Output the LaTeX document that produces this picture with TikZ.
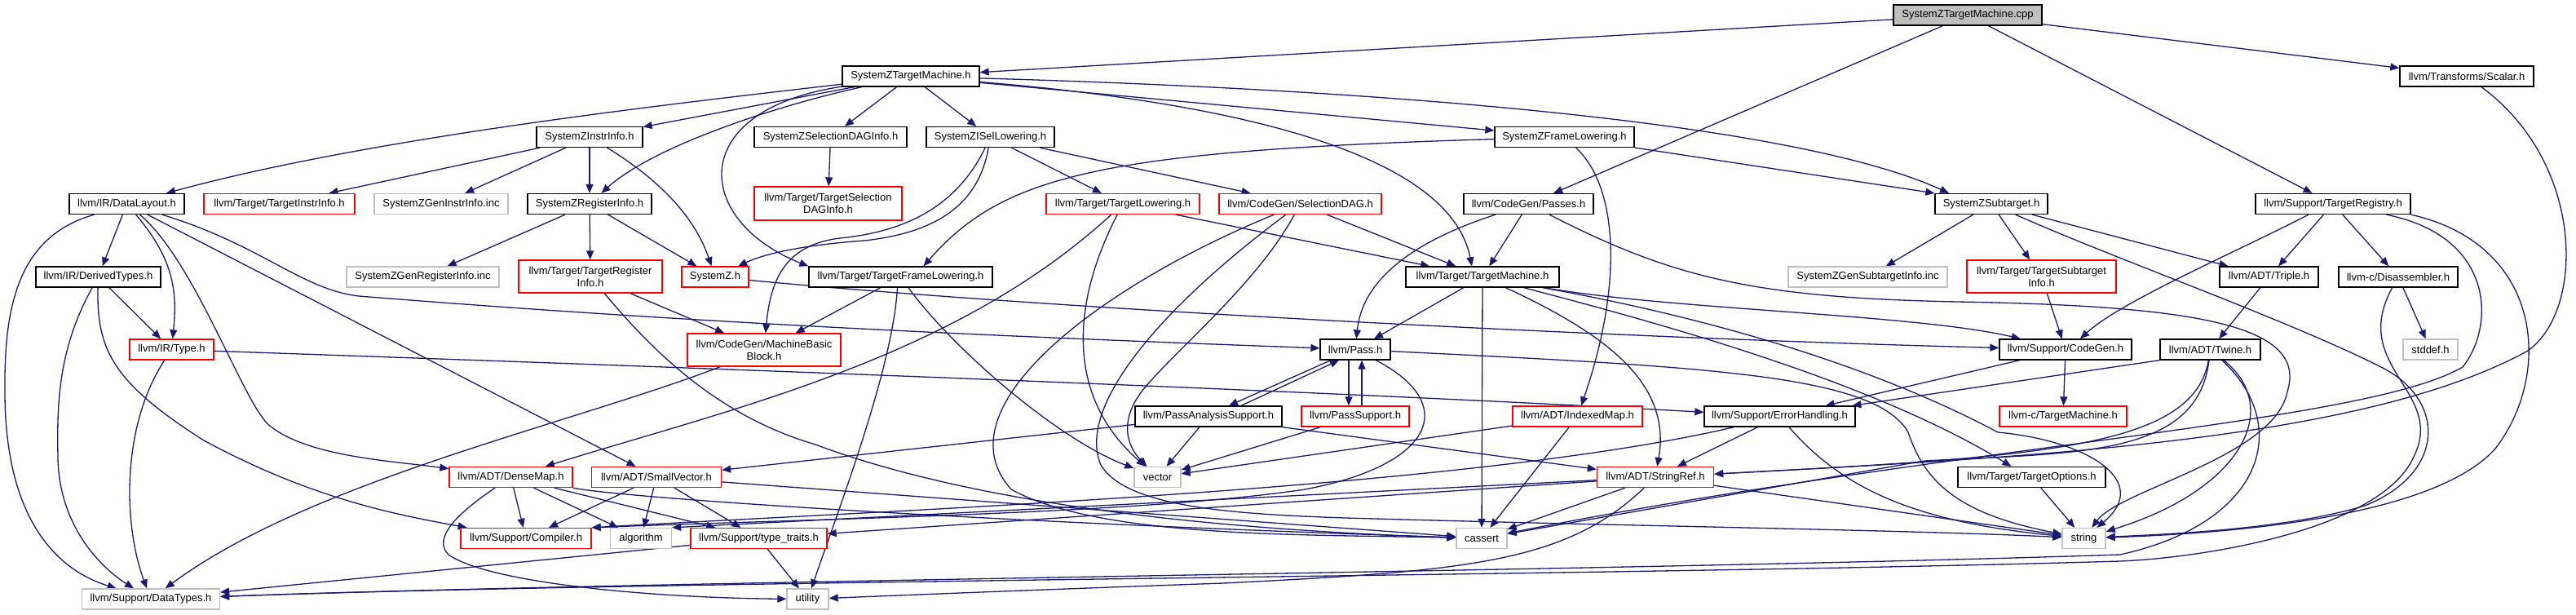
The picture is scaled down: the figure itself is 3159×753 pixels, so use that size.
\documentclass[tikz,border=0pt]{standalone}
\usepackage{fontspec}
\setmainfont{Liberation Sans}
\usetikzlibrary{arrows.meta,backgrounds}
\definecolor{edgec}{HTML}{191970}
\definecolor{grayb}{HTML}{BFBFBF}
\definecolor{redb}{HTML}{FF0000}
\newcommand\dfont{\fontsize{13}{15}\selectfont}
\begin{document}
\begin{tikzpicture}[x=1pt,y=-1pt,
  nd/.style={draw=black, line width=1.3pt, fill=white, inner sep=0pt, font=\dfont, align=center, text=black},
  rd/.style={nd, draw=redb},
  gd/.style={nd, draw=grayb},
  ed/.style={draw=edgec, line width=1.3pt, -{Triangle[length=11pt,width=9pt]}}]
\useasboundingbox (0,0) rectangle (3159,753);
% nodes
\node[nd, fill=grayb, minimum width=182pt, minimum height=25pt] (cpp) at (2413,18.5) {SystemZTargetMachine.cpp};
\node[nd, minimum width=168pt, minimum height=25pt] (tmh) at (1117,93.5) {SystemZTargetMachine.h};
\node[nd, minimum width=164pt, minimum height=25pt] (scalar) at (3025,93.5) {llvm/Transforms/Scalar.h};
\node[nd, minimum width=130pt, minimum height=25pt] (instr) at (723,168) {SystemZInstrInfo.h};
\node[nd, minimum width=187pt, minimum height=25pt] (seldag) at (1018.5,168) {SystemZSelectionDAGInfo.h};
\node[nd, minimum width=157pt, minimum height=25pt] (isel) at (1214.5,168) {SystemZISelLowering.h};
\node[nd, minimum width=171pt, minimum height=25pt] (frame) at (1918.5,168) {SystemZFrameLowering.h};
\node[nd, minimum width=141pt, minimum height=25pt] (dl) at (155.5,250) {llvm/IR/DataLayout.h};
\node[rd, minimum width=185pt, minimum height=25pt] (tii) at (342.5,250) {llvm/Target/TargetInstrInfo.h};
\node[gd, minimum width=164pt, minimum height=25pt] (geninstr) at (541,250) {SystemZGenInstrInfo.inc};
\node[nd, minimum width=152pt, minimum height=25pt] (reg) at (723,250) {SystemZRegisterInfo.h};
\node[rd, minimum width=181pt, minimum height=41pt] (tsdi) at (1015.5,249.5) {llvm/Target/TargetSelection\\DAGInfo.h};
\node[rd, minimum width=188pt, minimum height=25pt] (tl) at (1377,250) {llvm/Target/TargetLowering.h};
\node[rd, minimum width=199pt, minimum height=25pt] (sdag) at (1594.5,250) {llvm/CodeGen/SelectionDAG.h};
\node[nd, minimum width=159pt, minimum height=25pt] (passes) at (1874.5,250) {llvm/CodeGen/Passes.h};
\node[nd, minimum width=138pt, minimum height=25pt] (subt) at (2442,250) {SystemZSubtarget.h};
\node[nd, minimum width=190pt, minimum height=25pt] (treg) at (2861,250) {llvm/Support/TargetRegistry.h};
\node[nd, minimum width=153pt, minimum height=25pt] (dt) at (120.5,339.5) {llvm/IR/DerivedTypes.h};
\node[gd, minimum width=187pt, minimum height=25pt] (genreg) at (518.5,339.5) {SystemZGenRegisterInfo.inc};
\node[rd, minimum width=176pt, minimum height=40pt] (tri) at (724,339) {llvm/Target/TargetRegister\\Info.h};
\node[rd, minimum width=82pt, minimum height=25pt] (szh) at (877,339.5) {SystemZ.h};
\node[nd, minimum width=225pt, minimum height=25pt] (tfl) at (1104.5,339.5) {llvm/Target/TargetFrameLowering.h};
\node[nd, minimum width=188pt, minimum height=25pt] (tm) at (1818,339.5) {llvm/Target/TargetMachine.h};
\node[gd, minimum width=195pt, minimum height=25pt] (gensub) at (2290.5,339.5) {SystemZGenSubtargetInfo.inc};
\node[rd, minimum width=183pt, minimum height=40pt] (tsi) at (2503.5,339) {llvm/Target/TargetSubtarget\\Info.h};
\node[nd, minimum width=121pt, minimum height=25pt] (triple) at (2782.5,339.5) {llvm/ADT/Triple.h};
\node[nd, minimum width=146pt, minimum height=25pt] (dis) at (2941,339.5) {llvm-c/Disassembler.h};
\node[rd, minimum width=103pt, minimum height=25pt] (type) at (210.5,428.5) {llvm/IR/Type.h};
\node[rd, minimum width=188pt, minimum height=40pt] (mbb) at (937,429) {llvm/CodeGen/MachineBasic\\Block.h};
\node[nd, minimum width=86pt, minimum height=25pt] (pass) at (1662,428.5) {llvm/Pass.h};
\node[nd, minimum width=162pt, minimum height=25pt] (cg) at (2533,428.5) {llvm/Support/CodeGen.h};
\node[nd, minimum width=123pt, minimum height=25pt] (twine) at (2710.5,428.5) {llvm/ADT/Twine.h};
\node[gd, minimum width=67pt, minimum height=25pt] (stddef) at (2980.5,428.5) {stddef.h};
\node[nd, minimum width=180pt, minimum height=25pt] (pas) at (1482,510.5) {llvm/PassAnalysisSupport.h};
\node[rd, minimum width=132pt, minimum height=25pt] (ps) at (1662,510.5) {llvm/PassSupport.h};
\node[rd, minimum width=159pt, minimum height=25pt] (imap) at (1934.5,510.5) {llvm/ADT/IndexedMap.h};
\node[nd, minimum width=185pt, minimum height=25pt] (eh) at (2182.5,510.5) {llvm/Support/ErrorHandling.h};
\node[rd, minimum width=156pt, minimum height=25pt] (ctm) at (2530,510.5) {llvm-c/TargetMachine.h};
\node[rd, minimum width=151pt, minimum height=25pt] (dm) at (626.5,585) {llvm/ADT/DenseMap.h};
\node[rd, minimum width=159pt, minimum height=25pt] (sv) at (805,585) {llvm/ADT/SmallVector.h};
\node[gd, minimum width=57pt, minimum height=25pt] (vec) at (1419.5,585) {vector};
\node[rd, minimum width=143pt, minimum height=25pt] (sr) at (2030,585) {llvm/ADT/StringRef.h};
\node[nd, minimum width=181pt, minimum height=25pt] (topt) at (2491.5,585) {llvm/Target/TargetOptions.h};
\node[rd, minimum width=160pt, minimum height=25pt] (comp) at (645,660) {llvm/Support/Compiler.h};
\node[gd, minimum width=75pt, minimum height=25pt] (algo) at (786,660) {algorithm};
\node[rd, minimum width=167pt, minimum height=25pt] (tt) at (930.5,660) {llvm/Support/type\_traits.h};
\node[gd, minimum width=62pt, minimum height=25pt] (cass) at (1817,660) {cassert};
\node[gd, minimum width=53pt, minimum height=25pt] (str) at (2555.5,660) {string};
\node[gd, minimum width=169pt, minimum height=25pt] (dty) at (185,734.5) {llvm/Support/DataTypes.h};
\node[gd, minimum width=51pt, minimum height=25pt] (util) at (990.5,734.5) {utility};
% edges
\begin{scope}[on background layer]
\draw[ed] (cpp) -- (tmh);
\draw[ed] (cpp) -- (passes);
\draw[ed] (cpp) -- (treg);
\draw[ed] (cpp) -- (scalar);
% tmh
\draw[ed] (tmh) .. controls (800,130) and (450,170) .. (dl);
\draw[ed] (tmh) -- (instr);
\draw[ed] (tmh) .. controls (950,130) and (800,180) .. (reg);
\draw[ed] (tmh) -- (seldag);
\draw[ed] (tmh) -- (isel);
\draw[ed] (tmh) -- (frame);
\draw[ed] (tmh) .. controls (1700,110) and (2200,150) .. ([xshift=-52pt]subt.north);
\draw[ed] (tmh) .. controls (1560,130) and (1780,200) .. ([xshift=-13pt]tm.north);
\draw[ed] (tmh) .. controls (840,135) and (850,270) .. (tfl.north west);
% instr
\draw[ed] (instr) -- (tii);
\draw[ed] (instr) -- (geninstr);
\draw[ed] (instr) -- (reg);
\draw[ed] (instr) .. controls (800,215) and (850,260) .. (szh);
% reg
\draw[ed] (reg) -- (genreg);
\draw[ed] (reg) -- (tri);
\draw[ed] (reg) -- (szh);
\draw[ed] (seldag) -- (tsdi);
% isel
\draw[ed] (isel) -- (tl);
\draw[ed] (isel) -- (sdag);
\draw[ed] (isel) .. controls (1200,250) and (1150,285) .. (1060,295) .. controls (990,300) and (940,310) .. (szh);
\draw[ed] (isel) .. controls (1170,260) and (1100,285) .. (1030,292) .. controls (965,300) and (945,340) .. (mbb);
% frame
\draw[ed] (frame) .. controls (1350,185) and (1230,215) .. ([xshift=28pt]tfl.north);
\draw[ed] (frame) -- (subt.north west);
\draw[ed] (frame) .. controls (1985,230) and (1990,350) .. (imap);
% dl
\draw[ed] (dl) -- (dt);
\draw[ed] (dl) .. controls (215,320) and (217,360) .. (type);
\draw[ed] ([xshift=-40pt]dl.south) .. controls (20,290) and (5,380) .. (6,480) .. controls (6,660) and (90,705) .. (dty);
\draw[ed] (dl) .. controls (240,320) and (300,500) .. (332,523) .. controls (380,560) and (480,565) .. (dm);
\draw[ed] (dl) -- (sv);
\draw[ed] (dl) .. controls (320,300) and (370,355) .. (440,363) .. controls (900,400) and (1300,415) .. (pass);
% dt
\draw[ed] (dt) -- (type);
\draw[ed] (dt) .. controls (70,430) and (70,500) .. (71,560) .. controls (72,650) and (130,700) .. (dty);
\draw[ed] (dt) .. controls (118,430) and (140,470) .. (250,540) .. controls (380,610) and (480,630) .. (comp);
% type
\draw[ed] (type) .. controls (150,520) and (150,640) .. (dty);
\draw[ed] (type) .. controls (800,449) and (1580,477) .. (eh);
% tri
\draw[ed] (tri) -- (mbb);
\draw[ed] (tri) .. controls (800,430) and (880,510) .. (1000,545) .. controls (1200,620) and (1500,650) .. (cass);
% szh
\draw[ed] (szh) .. controls (1300,380) and (2000,415) .. (cg);
% tfl
\draw[ed] (tfl) -- (mbb);
\draw[ed] ([xshift=-4pt]tfl.south) .. controls (1095,450) and (1030,620) .. (util);
\draw[ed] (tfl) .. controls (1170,430) and (1300,540) .. (vec);
% tl
\draw[ed] (tl) -- (tm);
\draw[ed] (tl) .. controls (1170,440) and (900,500) .. (dm);
\draw[ed] (tl) .. controls (1320,360) and (1300,480) .. (vec);
% sdag
\draw[ed] (sdag) -- (tm);
\draw[ed] (sdag) .. controls (1350,350) and (1150,500) .. (1240,600) .. controls (1350,660) and (1600,655) .. (cass);
\draw[ed] (sdag) .. controls (1540,350) and (1440,430) .. (1400,480) .. controls (1370,520) and (1385,550) .. (vec);
\draw[ed] (sdag) .. controls (1420,380) and (1320,500) .. (1350,570) .. controls (1380,620) and (1500,630) .. (1650,635) .. controls (2000,645) and (2350,650) .. (str);
% passes
\draw[ed] (passes) .. controls (1720,300) and (1670,350) .. (pass);
\draw[ed] (passes) -- (tm);
\draw[ed] (passes) .. controls (2050,340) and (2150,365) .. (2400,370) .. controls (2700,375) and (2830,400) .. (2805,480) .. controls (2790,560) and (2600,600) .. (str);
% tm
\draw[ed] (tm) -- (pass);
\draw[ed] (tm) -- (cass);
\draw[ed] (tm) .. controls (1970,410) and (2050,470) .. (sr);
\draw[ed] (tm) .. controls (2050,400) and (2300,470) .. ([xshift=-25pt]topt.north);
\draw[ed] (tm) .. controls (2050,380) and (2350,385) .. (cg);
\draw[ed] (tm) .. controls (2100,390) and (2300,450) .. (2450,530) .. controls (2560,540) and (2640,590) .. (str);
% subt
\draw[ed] (subt) -- (gensub);
\draw[ed] (subt) -- (tsi);
\draw[ed] (subt) -- (triple);
\draw[ed] (subt) .. controls (2600,320) and (2800,390) .. (2920,450) .. controls (3000,490) and (3000,580) .. (2900,620) .. controls (2800,650) and (2650,655) .. (str);
\draw[ed] (tsi) -- (cg);
% treg
\draw[ed] ([xshift=-30pt]treg.south) .. controls (2740,310) and (2600,370) .. ([xshift=18pt]cg.north);
\draw[ed] (treg) -- (triple);
\draw[ed] (treg) -- (dis);
\draw[ed] (treg) .. controls (3060,290) and (3060,400) .. (3020,450) .. controls (2900,520) and (2400,545) .. (cass);
\draw[ed] (treg.south east) .. controls (3120,300) and (3130,460) .. (3060,550) .. controls (2980,640) and (2700,655) .. (str);
% scalar
\draw[ed] (scalar) .. controls (3170,200) and (3170,380) .. (3100,430) .. controls (2900,540) and (2500,560) .. (sr);
% triple, twine, dis
\draw[ed] (triple) -- (twine);
\draw[ed] (twine.south west) -- (eh);
\draw[ed] (twine) .. controls (2690,550) and (2500,560) .. (sr);
\draw[ed] (twine) .. controls (2695,560) and (2550,555) .. (2360,565) -- (cass);
\draw[ed] (twine) .. controls (2800,500) and (2750,600) .. (str);
\draw[ed] (twine) .. controls (2810,520) and (2780,640) .. (2600,680) .. controls (2000,700) and (800,712) .. (dty);
\draw[ed] (dis) -- (stddef);
\draw[ed] (dis) .. controls (2880,450) and (3000,480) .. (2960,560) .. controls (2920,650) and (2700,684) .. (2600,688) .. controls (2000,706) and (800,712) .. (dty);
% cg, topt
\draw[ed] (cg) -- (ctm);
\draw[ed] (cg) -- (eh);
\draw[ed] (topt) -- (str);
% eh
\draw[ed] (eh) -- (sr);
\draw[ed] (eh) .. controls (1800,600) and (1100,625) .. (comp.north east);
\draw[ed] (eh) .. controls (2260,600) and (2350,640) .. (str);
% sr
\draw[ed] (sr) -- (tt);
\draw[ed] (sr) -- (algo.north east);
\draw[ed] (sr) -- (cass);
\draw[ed] (sr) .. controls (1920,690) and (1800,700) .. (1500,715) .. controls (1300,722) and (1100,730) .. (util);
\draw[ed] (sr) -- (str);
% imap
\draw[ed] (imap) -- (cass);
\draw[ed] (imap) -- (vec);
% pass
\draw[ed] ([xshift=-8pt]pass.south) -- ([xshift=-8pt]ps.north);
\draw[ed] ([xshift=8pt]ps.north) -- ([xshift=8pt]pass.south);
\draw[ed] ([xshift=-30pt]pass.south) -- ([xshift=25pt]pas.north);
\draw[ed] ([xshift=40pt]pas.north) -- ([xshift=-20pt]pass.south);
\draw[ed] (pass) .. controls (1790,495) and (1760,570) .. (1600,600) .. controls (1400,630) and (1000,636) .. (comp.north east);
\draw[ed] (pass) .. controls (2100,450) and (2300,460) .. (2340,530) .. controls (2360,590) and (2400,630) .. (str);
\draw[ed] (ps) -- (vec);
% pas
\draw[ed] (pas) -- (sv);
\draw[ed] (pas.south east) -- (sr);
\draw[ed] (pas) -- (vec);
% mbb
\draw[ed] (mbb) .. controls (700,520) and (380,590) .. (dty);
% tt
\draw[ed] (tt) -- (dty);
\draw[ed] (tt) -- (util);
% dm
\draw[ed] (dm) -- (comp);
\draw[ed] (dm) -- (algo);
\draw[ed] (dm) -- (tt);
\draw[ed] (dm.south east) .. controls (760,610) and (1200,640) .. (cass);
\draw[ed] (dm) .. controls (560,630) and (530,660) .. (550,680) .. controls (600,715) and (800,733) .. (util);
% sv
\draw[ed] (sv) -- (comp);
\draw[ed] (sv) -- (algo);
\draw[ed] (sv) -- (tt);
\draw[ed] (sv) -- (cass);
\end{scope}
\end{tikzpicture}
\end{document}
